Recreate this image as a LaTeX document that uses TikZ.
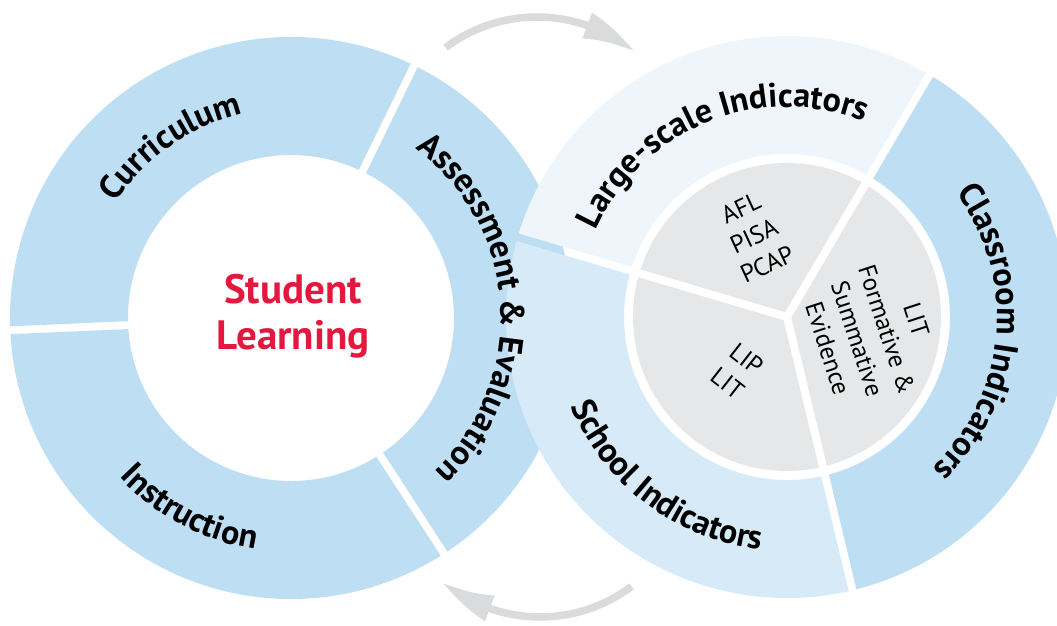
\documentclass[tikz,border=0pt]{standalone}
\usepackage{fontspec}
\setmainfont{PT Sans}
\usetikzlibrary{calc,decorations.text,arrows.meta,bending}

\definecolor{ringblue}{RGB}{190,222,243}
\definecolor{schoolblue}{RGB}{215,234,247}
\definecolor{largeblue}{RGB}{238,246,251}
\definecolor{piegray}{RGB}{230,231,232}
\definecolor{arrowgray}{RGB}{218,219,220}
\definecolor{learnred}{RGB}{227,24,62}

\begin{document}
\begin{tikzpicture}[x=1pt,y=1pt,
  ringlabel/.style={decorate,decoration={text along path,text align=center,
      text={|\bfseries\fontsize{34}{38}\selectfont|#1}}},
  pielabel/.style={align=center,font=\fontsize{25}{31}\selectfont},
  cyclearrow/.style={arrowgray,line width=7.5pt,-{Triangle[length=56pt,width=25pt,bend]}}]
  \useasboundingbox (0,0) rectangle (1057,625);
  \fill[white] (0,0) rectangle (1057,625);
  \clip (0,0) rectangle (1057,625);
  \coordinate (L) at (291,307);
  \coordinate (R) at (787,308);

  % left ring
  \foreach \a/\b in {64/182.5,182.5/303,-57/64}{
  \fill[ringblue] ($(L)+(\a+0.8:281)$) arc[start angle=\a+0.8,end angle=\b-0.8,radius=281]
    -- ($(L)+(\b-1.4:163)$) arc[start angle=\b-1.4,end angle=\a+1.4,radius=163] -- cycle;
  }

  % right ring, multiplied over the left one
  \begin{scope}[blend group=multiply]
  \foreach \a/\b/\col in {59.5/163.5/largeblue,163.5/283.5/schoolblue,283.5/419.5/ringblue}{
  \fill[\col] ($(R)+(\a+0.8:281)$) arc[start angle=\a+0.8,end angle=\b-0.8,radius=281]
    -- ($(R)+(\b-1.4:163)$) arc[start angle=\b-1.4,end angle=\a+1.4,radius=163] -- cycle;
  }
  \end{scope}
  \fill[piegray] (R) circle[radius=154];
  \foreach \t in {59.5,163.5,283.5}
  \draw[white,line width=8pt] (R) -- ($(R)+(\t:160)$);

  % ring labels
  \path[ringlabel=Curriculum] ($(L)+(205:210)$) arc[start angle=205,end angle=45,radius=210];
  \path[ringlabel=Instruction] ($(L)+(162:234)$) arc[start angle=162,end angle=322,radius=234];
  \path[ringlabel={Assessment {\&} Evaluation}] ($(L)+(83.5:210)$) arc[start angle=83.5,end angle=-76.5,radius=210];
  \path[ringlabel={Large-scale Indicators}] ($(R)+(192:210)$) arc[start angle=192,end angle=32,radius=210];
  \path[ringlabel={Classroom Indicators}] ($(R)+(75:210)$) arc[start angle=75,end angle=-85,radius=210];
  \path[ringlabel={School Indicators}] ($(R)+(153:234)$) arc[start angle=153,end angle=313,radius=234];

  \node[align=center,text=learnred,font=\bfseries\fontsize{41}{46}\selectfont] (student) at (293,309) {Student\\Learning};

  \node[pielabel,rotate=25] (large) at (754,389) {AFL\\PISA\\PCAP};
  \node[pielabel,rotate=-38] (school) at (737,254) {LIP\\LIT};
  \node[pielabel,rotate=-72] (class) at (872,291) {LIT\\Formative \&\\Summative\\Evidence};

  % cycle arrows
  \coordinate (topTail) at (445.5,577.4);
  \coordinate (botTail) at (631.5,38.6);
  \draw[cyclearrow] (topTail) arc[start angle=127,end angle=50,radius=152];
  \draw[cyclearrow] (botTail) arc[start angle=-53,end angle=-130,radius=152];
\end{tikzpicture}
\end{document}
